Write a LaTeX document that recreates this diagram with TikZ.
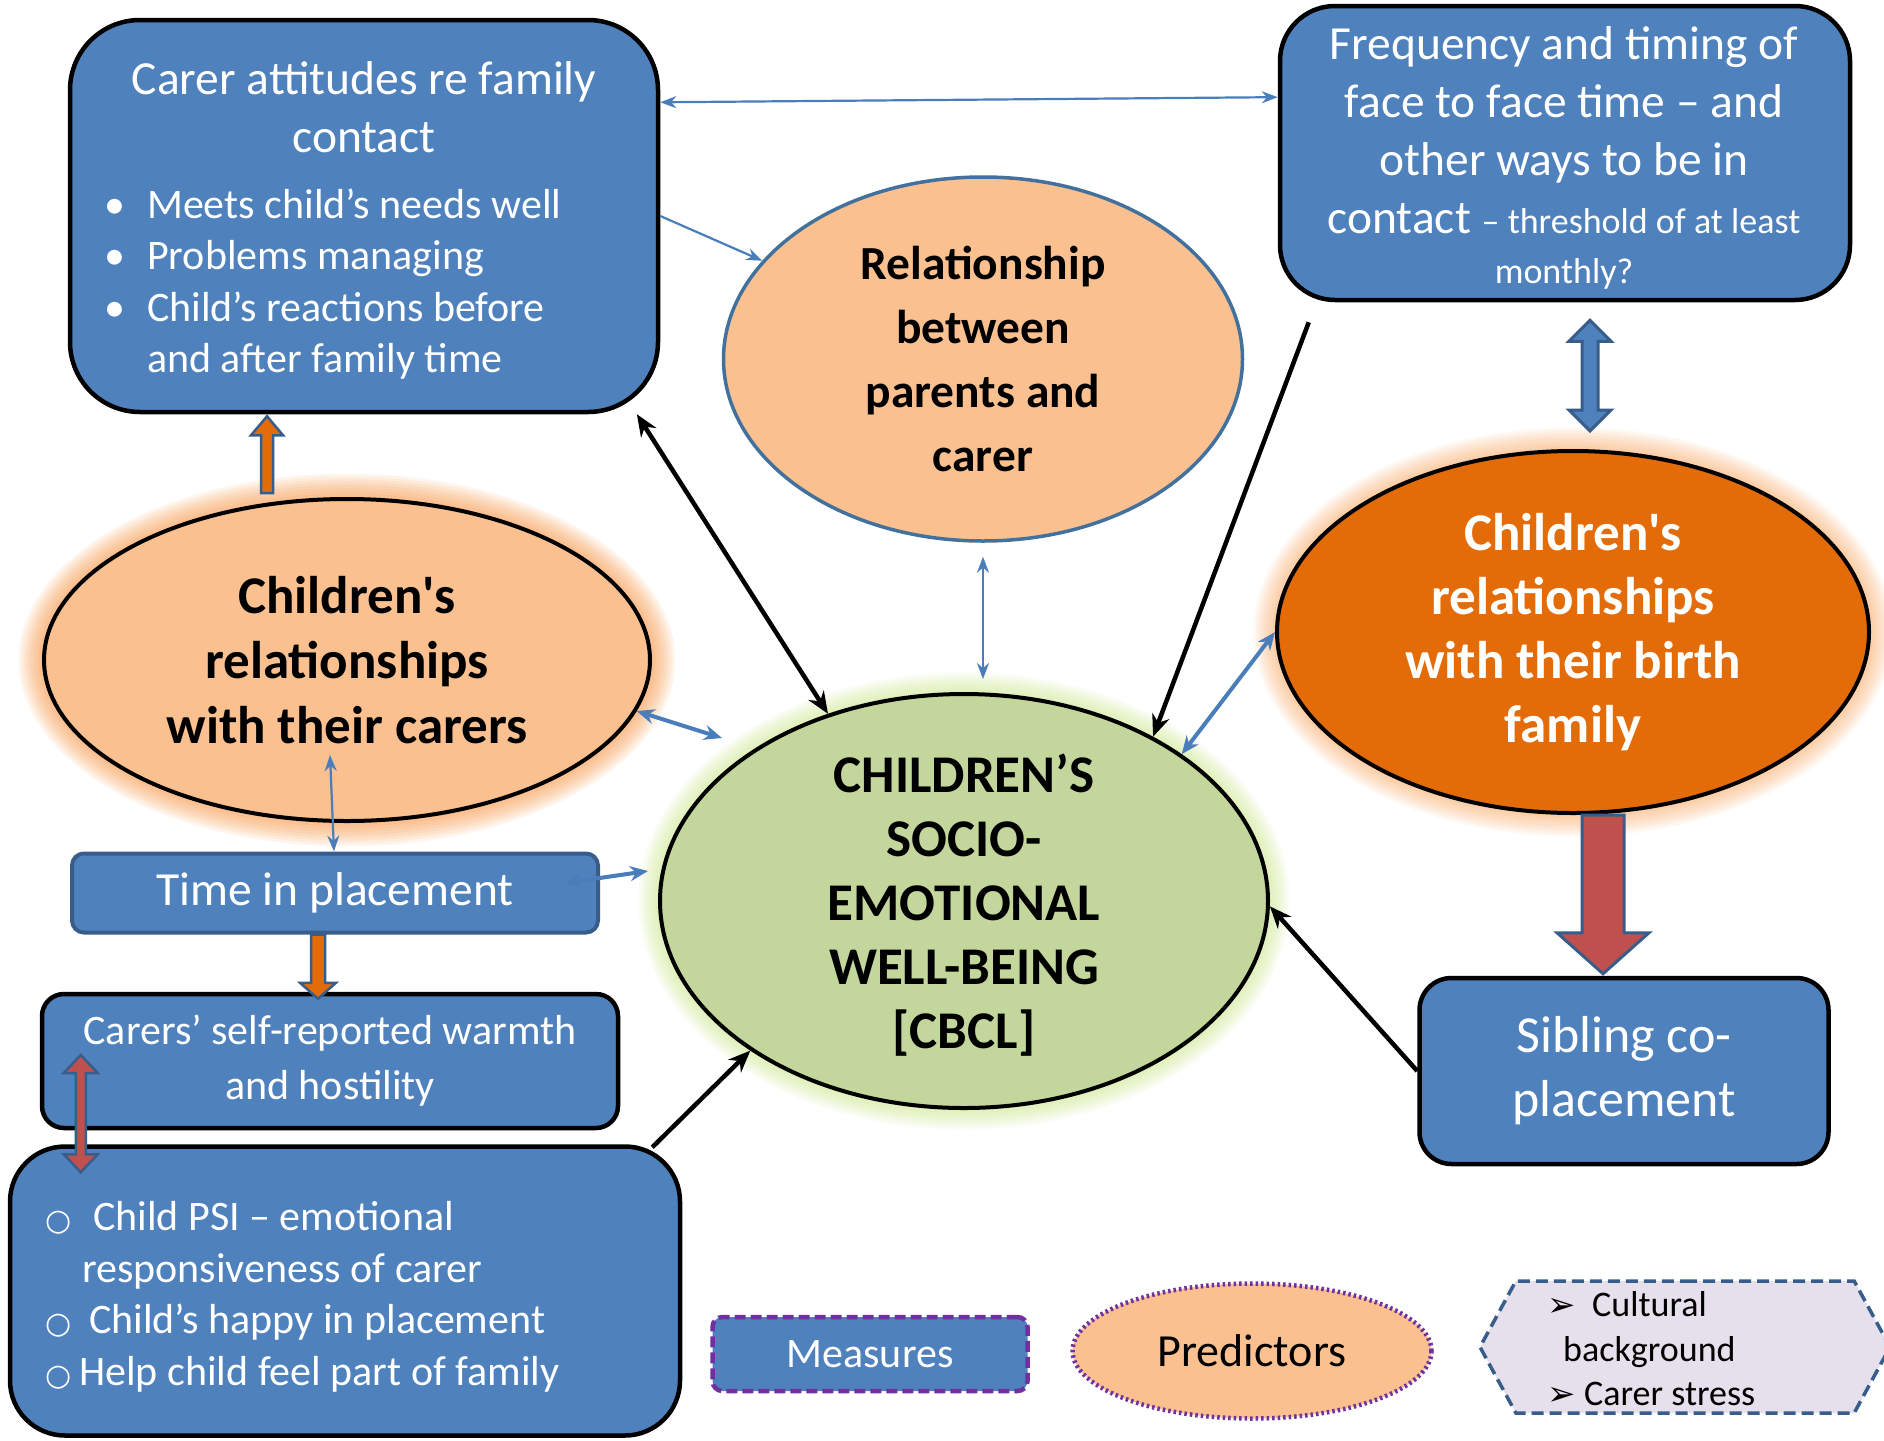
\documentclass[tikz,border=0pt]{standalone}
\usepackage{fontspec}
\setmainfont{Carlito}
\newfontfamily\symFont{DejaVu Sans}
\usetikzlibrary{shapes.geometric, shapes.symbols, arrows.meta, calc, backgrounds}

\definecolor{measureBlue}{HTML}{4F81BD}
\definecolor{edgeBlue}{HTML}{385D8A}
\definecolor{lineBlue}{HTML}{4A7EBB}
\definecolor{ringBlue}{HTML}{41719C}
\definecolor{peach}{HTML}{FAC090}
\definecolor{burnt}{HTML}{E36C09}
\definecolor{sage}{HTML}{C3D69B}
\definecolor{brick}{HTML}{C0504D}
\definecolor{plum}{HTML}{7030A0}
\definecolor{lilac}{HTML}{E6E0EC}
\definecolor{glowPeach}{HTML}{F79646}
\definecolor{glowGreen}{HTML}{C3E27A}

\newcommand{\bigFont}{\fontsize{47.5}{58}\selectfont}
\newcommand{\midFont}{\fontsize{42}{51.5}\selectfont}
\newcommand{\smallFont}{\fontsize{36}{44}\selectfont}
\newcommand{\boldFont}{\bfseries\fontsize{53}{65}\selectfont}
\newcommand{\circleMark}{{\symFont\fontsize{30}{30}\selectfont ○}}
\newcommand{\pointMark}{{\symFont\fontsize{34}{34}\selectfont ➢}}

% block arrows: style, from, to, shaft half width, head half width, head length
\newcommand{\blockarrow}[6]{%
  \draw[#1] let \p1=(#2), \p2=(#3), \n1={(\y1-\y2)/abs(\y1-\y2)} in
    ({\x1-#4},\y1) -- ({\x1-#4},{\y2+(\n1)*(#6)}) -- ({\x1-#5},{\y2+(\n1)*(#6)}) -- (\x1,\y2)
    -- ({\x1+#5},{\y2+(\n1)*(#6)}) -- ({\x1+#4},{\y2+(\n1)*(#6)}) -- ({\x1+#4},\y1) -- cycle;}
\newcommand{\blockboth}[6]{%
  \draw[#1] let \p1=(#2), \p2=(#3), \n1={(\y1-\y2)/abs(\y1-\y2)} in
    (\x1,\y1) -- ({\x1+#5},{\y1-(\n1)*(#6)}) -- ({\x1+#4},{\y1-(\n1)*(#6)})
    -- ({\x1+#4},{\y2+(\n1)*(#6)}) -- ({\x1+#5},{\y2+(\n1)*(#6)}) -- (\x1,\y2)
    -- ({\x1-#5},{\y2+(\n1)*(#6)}) -- ({\x1-#4},{\y2+(\n1)*(#6)})
    -- ({\x1-#4},{\y1-(\n1)*(#6)}) -- ({\x1-#5},{\y1-(\n1)*(#6)}) -- cycle;}

\tikzstyle{box} = [rectangle, draw=black, line width=4.5pt, fill=measureBlue, text=white, align=center, inner sep=0pt]
\tikzstyle{predictor} = [ellipse, draw=black, line width=4pt, fill=peach, align=center, inner sep=0pt, font=\boldFont]
\tikzstyle{arrow} = [line width=4.5pt, ->, >={Stealth[length=22pt,width=18pt]}]
\tikzstyle{blueArrow} = [line width=2.2pt, draw=lineBlue, ->, >={Stealth[length=16pt,width=12pt]}]
\tikzstyle{blueArrowWide} = [line width=4pt, draw=lineBlue, <->, >={Stealth[length=18pt,width=15pt]}]
\tikzstyle{block} = [line width=2.5pt, draw=edgeBlue, line join=miter]

\begin{document}
\begin{tikzpicture}[x=1pt, y=-1pt]
\useasboundingbox (0,0) rectangle (1884,1440);

% measures
\node (attitudes) [box, rounded corners=70pt, minimum width=588pt, minimum height=392pt] at (364,216) {};
\node (attitudesTitle) [text=white, align=center, font=\bigFont, inner sep=0pt] at (364,107) {Carer attitudes re family\\contact};
\node (attitudesList) [text=white, align=left, anchor=west, inner sep=0pt, font=\midFont] at (104,284) {\makebox[43pt][l]{•}Meets child’s needs well\\\makebox[43pt][l]{•}Problems managing\\\makebox[43pt][l]{•}Child’s reactions before\\\hspace*{43pt}and after family time};
\node (frequency) [box, rounded corners=55pt, minimum width=570pt, minimum height=294pt] at (1565,153) {};
\node (frequencyLabel) [text=white, align=center, font=\bigFont, inner sep=0pt] at (1564,158) {Frequency and timing of\\face to face time – and\\other ways to be in\\contact {\smallFont – threshold of at least}\\[-8pt]{\smallFont monthly?}};
\node (placement) [box, draw=edgeBlue, line width=4pt, rounded corners=12pt, minimum width=526pt, minimum height=79pt, font=\bigFont] at (335,893) {Time in placement};
\node (warmth) [box, rounded corners=22pt, minimum width=576pt, minimum height=134pt, font=\fontsize{42}{55}\selectfont] at (330,1061) {Carers’ self-reported warmth\\and hostility};
\node (happy) [box, rounded corners=55pt, minimum width=670pt, minimum height=289pt] at (345,1291) {};
\node (happyList) [text=white, align=left, anchor=west, inner sep=0pt, font=\midFont] at (45,1297) {\makebox[48pt][l]{\circleMark}Child PSI – emotional\\\hspace*{37pt}responsiveness of carer\\\makebox[44pt][l]{\circleMark}Child’s happy in placement\\\makebox[34pt][l]{\circleMark}Help child feel part of family};
\node (sibling) [box, rounded corners=32pt, minimum width=409pt, minimum height=186pt, font=\fontsize{52}{64}\selectfont] at (1624,1071) {Sibling co-\\placement};

% predictors
\node (relation) [predictor, draw=ringBlue, line width=3.5pt, minimum width=519pt, minimum height=364pt, font=\bfseries\fontsize{47.5}{64}\selectfont] at (983,359) {Relationship\\between\\parents and\\carer};
\node (carers) [predictor, minimum width=606pt, minimum height=322pt] at (347,660) {Children\textquotesingle s\\relationships\\with their carers};
\node (birth) [predictor, fill=burnt, text=white, minimum width=592pt, minimum height=362pt, font=\bfseries\fontsize{53}{64}\selectfont] at (1573,632) {Children\textquotesingle s\\relationships\\with their birth\\family};
\node (wellbeing) [predictor, fill=sage, minimum width=608pt, minimum height=414pt] at (964,901) {};
\node (wellbeingLabel) [align=center, inner sep=0pt, font=\bfseries\fontsize{53}{64}\selectfont] at (964,905) {CHILDREN’S\\SOCIO-\\EMOTIONAL\\WELL-BEING\\{[CBCL]}};

% key
\node (measures) [box, draw=plum, dash pattern=on 11pt off 5pt, rounded corners=10pt, minimum width=315pt, minimum height=74pt, font=\midFont] at (870,1354) {Measures};
\node (predictors) [ellipse, draw=plum, line width=4.5pt, dash pattern=on 2.5pt off 3pt, fill=peach, minimum width=359pt, minimum height=135pt, inner sep=0pt, font=\fontsize{46}{55}\selectfont] at (1252,1351) {Predictors};
\node (context) [signal, signal to=west and east, signal pointer angle=123, draw=edgeBlue, line width=3.5pt, dash pattern=on 12pt off 6pt, fill=lilac, minimum width=410pt, minimum height=132pt, inner sep=0pt] at (1685,1347) {};
\node (contextLabel) [align=left, anchor=west, inner sep=0pt, font=\fontsize{36}{44.5}\selectfont] at (1547,1349) {\makebox[45pt][l]{\pointMark}Cultural\\\hspace*{16pt}background\\\makebox[37pt][l]{\pointMark}Carer stress};

\begin{scope}[on background layer]
\foreach \g in {1,...,9} {
  \fill [glowPeach, opacity=0.1] (carers.center) ellipse ({303pt+2.8pt*\g} and {161pt+2.8pt*\g});
  \fill [glowPeach, opacity=0.07] (birth.center) ellipse ({296pt+2.6pt*\g} and {181pt+2.6pt*\g});
  \fill [glowGreen, opacity=0.08] (wellbeing.center) ellipse ({304pt+2.4pt*\g} and {207pt+2.4pt*\g});
}
\end{scope}

% links
\draw [blueArrow, <->] (attitudes.21.4) -- (frequency.169.7);
\draw [blueArrow] (attitudes.east) -- (relation.156);
\draw [arrow, <->] (attitudes.-36) -- (wellbeing.126);
\draw [blueArrow, <->, shorten <=14pt, shorten >=13pt] (relation.south) -- (relation.south |- wellbeing.north);
\draw [arrow] ($(frequency.south west)+(31,20)$) -- (wellbeing.41);
\draw [blueArrowWide] (wellbeing.34) -- (birth.west);
\draw [blueArrow, <->] ($(carers.center)+(-17,95)$) -- ($(placement.north)+(-1,0)$);
\draw [blueArrowWide] (carers.-10) -- ($(wellbeing.center)+(-242,-163)$);
\draw [blueArrowWide] ($(placement.east)+(-35,-10)$) -- ($(wellbeing.west)+(-10,-30)$);
\draw [arrow] ($(happy.north east)+(-30,3)$) -- (wellbeing.215);
\draw [arrow] (sibling.west) -- (wellbeing.-1);

\coordinate (contactTop) at ($(frequency.south)+(25,18)$);
\coordinate (contactBottom) at ($(birth.north)+(17,-18)$);
\blockboth{block, fill=measureBlue, line width=3pt}{contactTop}{contactBottom}{8pt}{21pt}{21pt}
\coordinate (siblingStart) at ($(birth.south)+(30,0)$);
\coordinate (siblingEnd) at ($(sibling.north)+(-21,-2)$);
\blockarrow{block, fill=brick, line width=3pt}{siblingStart}{siblingEnd}{21pt}{46pt}{41pt}
\coordinate (carersTop) at ($(carers.north)+(-80,-4)$);
\coordinate (attitudesBottom) at ($(attitudes.south)+(-97,2)$);
\blockarrow{block, fill=burnt}{carersTop}{attitudesBottom}{6pt}{16pt}{19pt}
\coordinate (placementBottom) at ($(placement.south)+(-17,0)$);
\coordinate (warmthTop) at ($(warmth.north)+(-12,7)$);
\blockarrow{block, fill=burnt}{placementBottom}{warmthTop}{7pt}{18pt}{16pt}
\coordinate (warmthInside) at ($(warmth.west)+(41,-6)$);
\coordinate (happyInside) at ($(happy.north west)+(73,28)$);
\blockboth{block, fill=brick}{warmthInside}{happyInside}{5pt}{17pt}{18pt}
\end{tikzpicture}
\end{document}
